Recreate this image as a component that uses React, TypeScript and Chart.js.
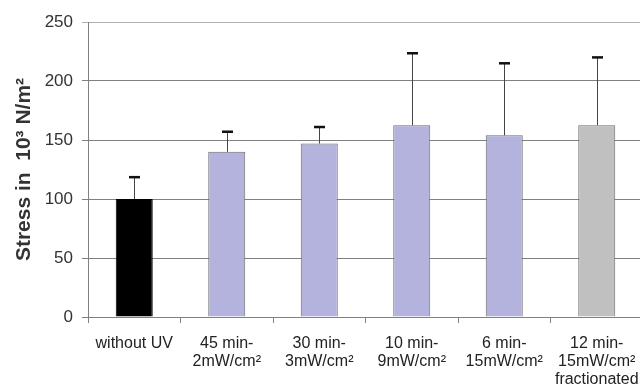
import React, { useEffect, useRef } from "react";
import { Chart, registerables } from "chart.js";

Chart.register(...registerables);

const categories: (string | string[])[] = [
  "without UV",
  ["45 min-", "2mW/cm²"],
  ["30 min-", "3mW/cm²"],
  ["10 min-", "9mW/cm²"],
  ["6 min-", "15mW/cm²"],
  ["12 min-", "15mW/cm²", "fractionated"],
];
const stressValues = [100, 140, 147, 162.5, 154, 162.5];
const upperErrors = [18.5, 17, 14, 61, 61, 57.5];
const barColors = ["#000000", "#b3b3dd", "#b3b3dd", "#b3b3dd", "#b3b3dd", "#c0c0c0"];
const yTicks = [0, 50, 100, 150, 200, 250];

const FONT = "'Liberation Sans', Arial, Helvetica, sans-serif";

const errorBarPlugin = {
  id: "errorBars",
  afterDatasetsDraw(chart: any) {
    const ctx = chart.ctx;
    const xs = chart.scales.x;
    const ys = chart.scales.y;
    ctx.save();
    stressValues.forEach((v, i) => {
      const x = Math.round(xs.getPixelForValue(i)) + 0.5;
      const yBar = ys.getPixelForValue(v);
      const yTop = ys.getPixelForValue(v + upperErrors[i]);
      ctx.strokeStyle = "#444444";
      ctx.lineWidth = 1;
      ctx.beginPath();
      ctx.moveTo(x, yBar);
      ctx.lineTo(x, yTop);
      ctx.stroke();
      ctx.strokeStyle = "#111111";
      ctx.lineWidth = 2.5;
      ctx.beginPath();
      ctx.moveTo(x - 5.5, yTop);
      ctx.lineTo(x + 5.5, yTop);
      ctx.stroke();
    });
    ctx.restore();
  },
};

export default function App() {
  const ref = useRef<HTMLCanvasElement | null>(null);
  useEffect(() => {
    if (!ref.current) return;
    const chart = new Chart(ref.current, {
      type: "bar",
      data: {
        labels: categories as any,
        datasets: [
          {
            data: stressValues,
            backgroundColor: barColors,
            borderColor: barColors.map((c, i) => (i === 0 ? "#000000" : "#6a6a6a")),
            borderWidth: 1,
            barPercentage: 0.4,
            categoryPercentage: 1,
          },
        ],
      },
      options: {
        animation: false,
        responsive: false,
        maintainAspectRatio: false,
        layout: { padding: { top: 22, right: 2, bottom: 0, left: 0 } },
        plugins: { legend: { display: false }, tooltip: { enabled: false } },
        scales: {
          x: {
            offset: true,
            afterFit: (s: any) => {
              s.height = 72;
              s.paddingLeft = 0;
              s.paddingRight = 0;
            },
            grid: {
              offset: true,
              drawOnChartArea: false,
              drawTicks: true,
              tickLength: 6,
              color: "#808080",
            },
            border: { color: "#808080" },
            ticks: {
              color: "#222222",
              padding: 11,
              maxRotation: 0,
              autoSkip: false,
              font: { family: FONT, size: 16, lineHeight: 1.15 },
            },
          },
          y: {
            min: 0,
            max: 250,
            afterFit: (s: any) => {
              s.width = 88;
            },
            afterBuildTicks: (s: any) => {
              s.ticks = yTicks.map((v) => ({ value: v }));
            },
            grid: {
              color: (c: any) => (c.tick && c.tick.value === 250 ? "#b0b0b0" : "#808080"),
              tickLength: 6,
            },
            border: { color: "#808080" },
            ticks: {
              color: "#333333",
              padding: 9,
              font: { family: FONT, size: 17 },
            },
            title: {
              display: true,
              text: "Stress in  10³ N/m²",
              color: "#333333",
              padding: { top: 12, bottom: 0 },
              font: { family: FONT, size: 21, weight: "bold", lineHeight: 1.2 },
            },
          },
        },
      },
      plugins: [errorBarPlugin],
    });
    return () => chart.destroy();
  }, []);
  return (
    <div style={{ position: "fixed", left: 0, top: 0, width: 645, height: 389, background: "#fff" }}>
      <canvas ref={ref} width={645} height={389} style={{ width: 645, height: 389, display: "block" }} />
    </div>
  );
}
